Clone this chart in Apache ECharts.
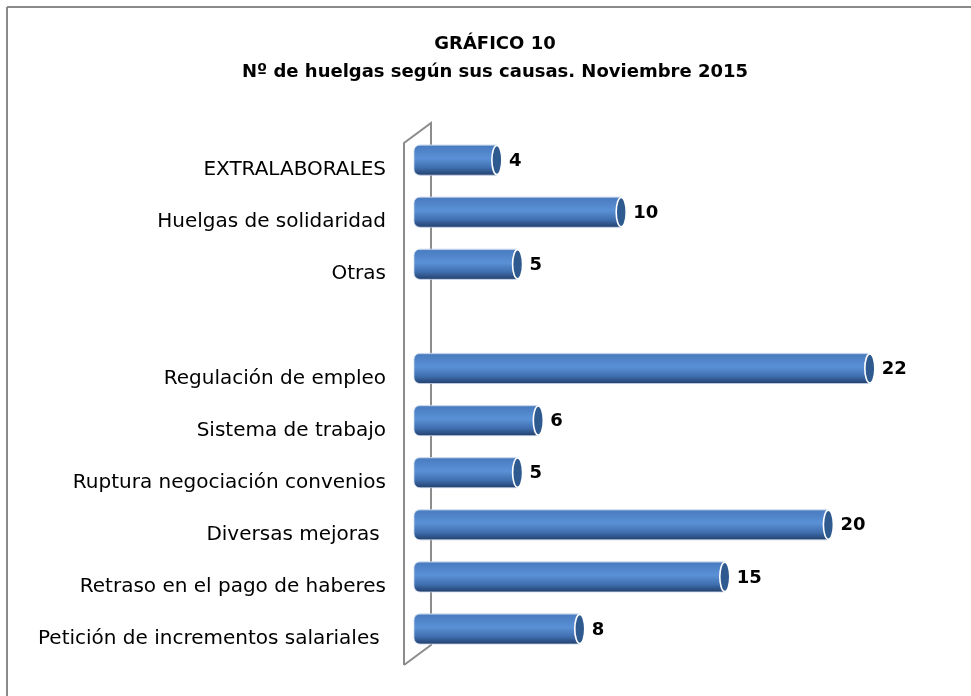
<!DOCTYPE html>
<html>
<head>
<meta charset="utf-8">
<script src="https://cdn.jsdelivr.net/npm/echarts@6/dist/echarts.min.js"></script>
<style>html,body{margin:0;padding:0;background:#fff;}#c{width:971px;height:696px;}</style>
</head>
<body>
<div id="c"></div>
<script>
var titleLines = ['GRÁFICO 10', 'Nº de huelgas según sus causas. Noviembre 2015'];
var categories = ['EXTRALABORALES', 'Huelgas de solidaridad', 'Otras', '', 'Regulación de empleo', 'Sistema de trabajo', 'Ruptura negociación convenios', 'Diversas mejoras ', 'Retraso en el pago de haberes', 'Petición de incrementos salariales '];
var values = [4, 10, 5, null, 22, 6, 5, 20, 15, 8];

var chart = echarts.init(document.getElementById('c'), null, {renderer: 'canvas'});
var data = values.map(function (v, i) { return [v, i]; });

var barGrad = new echarts.graphic.LinearGradient(0, 0, 0, 1, [
  {offset: 0, color: '#B9CCE8'},
  {offset: 0.06, color: '#4A7CC0'},
  {offset: 0.45, color: '#5A91D6'},
  {offset: 0.75, color: '#3F6EAE'},
  {offset: 1, color: '#213D69'}
]);

chart.setOption({
  backgroundColor: '#fff',
  animation: false,
  title: {
    text: titleLines.join('\n'),
    left: 490, top: 25, textAlign: 'center',
    textStyle: {fontFamily: 'DejaVu Sans', fontWeight: 'bold', fontSize: 18, lineHeight: 28, color: '#000'}
  },
  grid: {left: 414, right: 39, top: 134, bottom: 41, containLabel: false},
  xAxis: {type: 'value', min: 0, max: 25, show: false},
  yAxis: {
    type: 'category', data: categories, inverse: true,
    axisLine: {show: false}, axisTick: {show: false}, splitLine: {show: false},
    axisLabel: {margin: 28, fontFamily: 'DejaVu Sans', fontSize: 20, color: '#000', verticalAlign: 'top', lineHeight: 20}
  },
  graphic: [
    {type: 'line', shape: {x1: 7, y1: 7, x2: 971, y2: 7}, style: {stroke: '#8a8a8a', lineWidth: 2}},
    {type: 'line', shape: {x1: 7, y1: 7, x2: 7, y2: 696}, style: {stroke: '#8a8a8a', lineWidth: 2}},
    {type: 'polyline', z: -1, shape: {points: [[404, 665], [404, 143], [431, 123], [431, 645], [404, 665]]}, style: {stroke: '#8c8c8c', lineWidth: 2, fill: null}}
  ],
  series: [{
    type: 'custom',
    z: 5,
    data: data,
    encode: {x: 0, y: 1},
    renderItem: function (params, api) {
      var v = api.value(0);
      if (v == null || isNaN(v)) return;
      var idx = api.value(1);
      var s = api.coord([0, idx]);
      var e = api.coord([v, idx]);
      var h = api.size([0, 1])[1] * 0.58;
      var rx = 5;
      return {
        type: 'group',
        children: [
          {type: 'rect', shape: {x: s[0], y: s[1] - h / 2, width: e[0] - s[0], height: h, r: [6, 0, 0, 6]},
           style: {fill: barGrad, stroke: '#C9D7EC', lineWidth: 0.8}},
          {type: 'ellipse', shape: {cx: e[0], cy: e[1], rx: rx, ry: h / 2 - 0.5},
           style: {fill: '#2F5A90', stroke: '#ffffff', lineWidth: 1.6}},
          {type: 'text', style: {text: String(v), x: e[0] + 12, y: e[1] + 1, verticalAlign: 'middle', align: 'left',
            font: 'bold 18px "DejaVu Sans"', fill: '#000'}}
        ]
      };
    }
  }]
});
</script>
</body>
</html>
